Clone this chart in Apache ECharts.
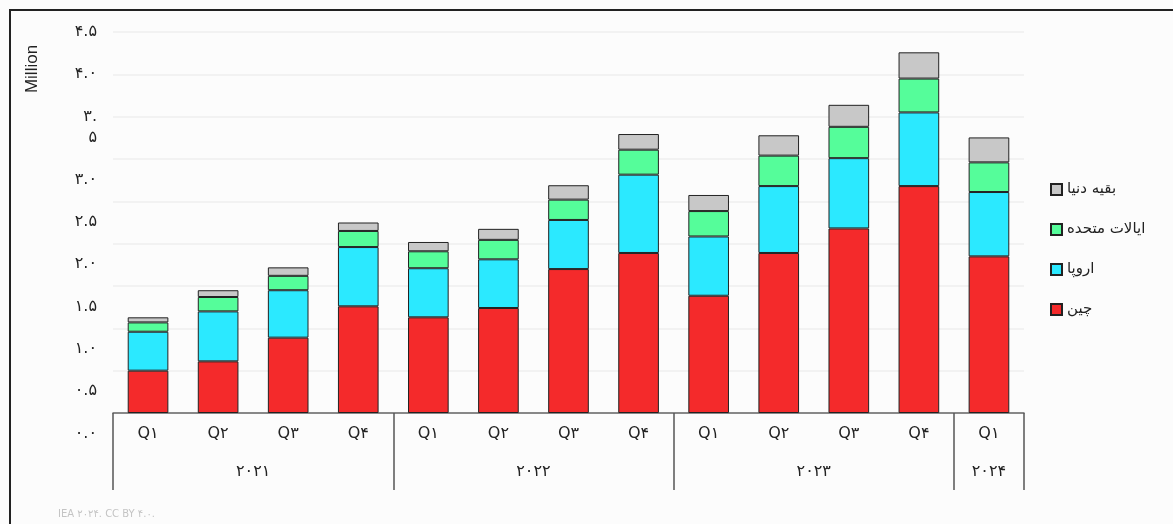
<!DOCTYPE html>
<html>
<head>
<meta charset="utf-8">
<script src="https://cdn.jsdelivr.net/npm/echarts@6/dist/echarts.min.js"></script>
<style>
html,body{margin:0;padding:0;background:#fcfcfc;}
#chart{width:1173px;height:524px;}
</style>
</head>
<body>
<div id="chart"></div>
<script>
// ---- data ----
var categories = ['Q۱','Q۲','Q۳','Q۴','Q۱','Q۲','Q۳','Q۴','Q۱','Q۲','Q۳','Q۴','Q۱'];
var years = ['۲۰۲۱','۲۰۲۲','۲۰۲۳','۲۰۲۴'];
var yearCenters = [2, 6, 10, 12.5];
var yearBounds = [0, 4, 8, 12, 13];
var seriesNames = ['چین','اروپا','ایالات متحده','بقیه دنیا'];
var china  = [0.50, 0.61, 0.89, 1.26, 1.13, 1.24, 1.70, 1.89, 1.385, 1.89, 2.18, 2.68, 1.85];
var europe = [0.46, 0.59, 0.56, 0.70, 0.58, 0.575, 0.58, 0.925, 0.70, 0.79, 0.83, 0.87, 0.76];
var usa    = [0.11, 0.17, 0.17, 0.19, 0.20, 0.23, 0.24, 0.295, 0.30, 0.36, 0.37, 0.40, 0.35];
var rest   = [0.06, 0.08, 0.10, 0.10, 0.11, 0.13, 0.17, 0.185, 0.19, 0.24, 0.26, 0.31, 0.295];
var yTickLabels = ['۰.۰','۰.۵','۱.۰','۱.۵','۲.۰','۲.۵','۳.۰','۳.۵','۴.۰','۴.۵'];
var colors = ['#f42a2b','#2be9ff','#55fd9a','#c8c8c8'];

var FA = "'DejaVu Sans', sans-serif";
var chart = echarts.init(document.getElementById('chart'));

// upper labels (3.5 and above) sit on their gridlines; 3.5 wraps to two lines
function yFormatterUpper(v){
  var i = Math.round(v / 0.5);
  var t = yTickLabels[i];
  if (i >= 8) return '{h|' + t + '}';
  if (i === 7) return '{e| }\n{h|' + t.slice(0,2) + '}\n{h|' + t.slice(2) + '}';
  return '';
}
// lower labels (3.0 and below) sit half a step below their gridlines
function yFormatterLower(v){
  var i = Math.round(v / 0.5);
  return i <= 6 ? yTickLabels[i] : '';
}

var dataArrays = [china, europe, usa, rest];
var series = seriesNames.map(function(n, k){
  return {
    name: n, type: 'bar', stack: 'total', xAxisIndex: 0, yAxisIndex: 0,
    barWidth: '58%',
    data: dataArrays[k],
    itemStyle: {color: colors[k], borderColor: '#222', borderWidth: 1},
    emphasis: {disabled: true}
  };
});

chart.setOption({
  backgroundColor: '#fcfcfc',
  animation: false,
  title: {
    text: 'IEA ۲۰۲۴. CC BY ۴.۰.',
    left: 53, top: 504,
    textStyle: {fontSize: 10, color: '#c4c4c4', fontWeight: 'normal', fontFamily: FA}
  },
  legend: {
    orient: 'vertical', left: 1045, top: 177,
    itemWidth: 11, itemHeight: 11, itemGap: 25,
    data: ['بقیه دنیا','ایالات متحده','اروپا','چین'],
    textStyle: {fontSize: 15, color: '#222', fontFamily: FA},
    icon: 'rect'
  },
  grid: {left: 113, right: 149, top: 32, bottom: 111},
  xAxis: [{
    type: 'category', data: categories, position: 'bottom',
    axisLine: {lineStyle: {color: '#666', width: 1.5}},
    axisTick: {show: false},
    axisLabel: {margin: 13, fontSize: 16, color: '#222', fontFamily: FA}
  }, {
    type: 'value', min: 0, max: 13, position: 'bottom', offset: 0,
    axisLine: {show: false},
    splitLine: {show: false},
    axisTick: {show: true, length: 77, customValues: yearBounds, lineStyle: {color: '#555', width: 1.5}},
    axisLabel: {
      margin: 51, fontSize: 16, color: '#222', fontFamily: FA,
      customValues: yearCenters,
      formatter: function(v){ var i = yearCenters.indexOf(v); return i >= 0 ? years[i] : ''; }
    }
  }],
  yAxis: [{
    type: 'value', min: 0, max: 4.5, interval: 0.5, position: 'left',
    axisLine: {show: false}, axisTick: {show: false},
    splitLine: {lineStyle: {color: '#efefef', width: 1.5}},
    axisLabel: {
      margin: 16, formatter: yFormatterUpper, color: '#222', hideOverlap: false,
      rich: {
        h: {fontSize: 16, lineHeight: 21, color: '#222', fontFamily: FA, align: 'right'},
        e: {fontSize: 16, lineHeight: 21}
      }
    }
  }, {
    type: 'value', min: 0, max: 4.5, interval: 0.5, position: 'left', offset: 0,
    axisLine: {show: false}, axisTick: {show: false}, splitLine: {show: false},
    axisLabel: {
      margin: 16, formatter: yFormatterLower, color: '#222', hideOverlap: false,
      fontSize: 16, fontFamily: FA, lineHeight: 21,
      verticalAlign: 'top', padding: [10, 0, 0, 0]
    }
  }],
  graphic: [{
    type: 'rect', silent: true, z: 100,
    shape: {x: 10, y: 10, width: 1400, height: 800},
    style: {fill: 'none', stroke: '#222', lineWidth: 2}
  }, {
    type: 'text', silent: true, x: 32, y: 69, rotation: Math.PI / 2,
    style: {text: 'Million', fontSize: 17, fill: '#222', fontFamily: "'Liberation Sans', Arial, sans-serif",
            align: 'center', verticalAlign: 'middle'}
  }],
  series: series
});
</script>
</body>
</html>
